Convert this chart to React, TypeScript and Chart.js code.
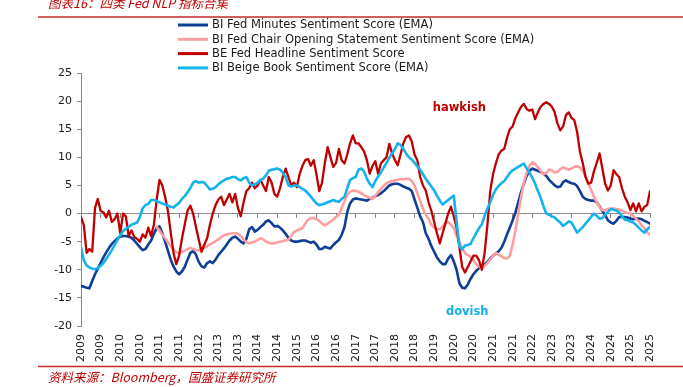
import React, { useEffect, useRef } from 'react';
import { Chart, registerables } from 'chart.js';

Chart.register(...registerables);

// ---- Texts ----
const TITLE = '图表16：四类 Fed NLP 指标合集';
const SOURCE = '资料来源：Bloomberg，国盛证券研究所';
const SERIES_NAMES = [
  'BI Fed Minutes Sentiment Score (EMA)',
  'BI Fed Chair Opening Statement Sentiment Score (EMA)',
  'BE Fed Headline Sentiment Score',
  'BI Beige Book Sentiment Score (EMA)',
];

// x-axis tick labels, one every TICK_STEP monthly points
const X_TICK_LABELS = [
  '2009', '2009', '2010', '2010', '2011', '2011', '2012', '2013', '2013', '2014',
  '2014', '2015', '2016', '2016', '2017', '2017', '2018', '2018', '2019', '2020',
  '2020', '2021', '2021', '2022', '2023', '2023', '2024', '2024', '2025', '2025',
];
const TICK_STEP = 7;
const Y_MIN = -20;
const Y_MAX = 25;
const Y_STEP = 5;

// ---- Series (monthly points) ----
const MINUTES = [
  -12.9, -13, -13.2, -13.3, -12, -10.8, -9.8, -8.8, -7.8, -6.9,
  -6.1, -5.4, -4.9, -4.4, -4.1, -4, -4, -4.1, -4.3, -4.8,
  -5.4, -6, -6.5, -6.3, -5.5, -4.8, -3.6, -2.6, -2.3, -3.5,
  -5, -6.6, -8.2, -9.4, -10.3, -10.8, -10.3, -9.5, -8.2, -7,
  -6.6, -7.3, -8.6, -9.4, -9.6, -8.8, -8.5, -8.8, -8.2, -7.4,
  -6.8, -6.2, -5.5, -4.8, -4.3, -4.1, -4.5, -5, -5.3, -4.5,
  -2.8, -2.4, -3.2, -2.9, -2.4, -2, -1.4, -1.2, -1.7, -2.3,
  -2.2, -2.5, -3, -3.6, -4.3, -4.8, -5, -5, -4.9, -4.8,
  -4.8, -5, -5.2, -5, -5.5, -6.3, -6.3, -5.9, -6.1, -6.2,
  -5.6, -5.1, -4.7, -3.8, -2.4, 0.3, 1.8, 2.5, 2.7, 2.6,
  2.5, 2.4, 2.3, 2.6, 2.8, 3.1, 3.3, 3.6, 4, 4.5,
  5, 5.2, 5.3, 5.3, 5.1, 4.8, 4.6, 4.4, 4, 2.5,
  1, -0.5, -1.5, -3.5, -4.5, -5.8, -6.8, -7.8, -8.5, -9,
  -9, -8, -7.4, -8.5, -10, -12.4, -13.2, -13.3, -12.6, -11.6,
  -10.8, -10.2, -9.7, -9.3, -9, -8.6, -8, -7.5, -7.1, -6.7,
  -6.1, -5, -3.7, -2.5, -1.2, 0.2, 2, 3.8, 5.3, 6.7,
  7.6, 8, 7.8, 7.6, 7.4, 7.1, 6.7, 6, 5.5, 5,
  4.7, 4.8, 5.6, 5.9, 5.6, 5.4, 5.3, 4.9, 4, 3,
  2.6, 2.4, 2.3, 2.3, 2, 1.3, 0.5, -0.3, -1.2, -1.6,
  -1.8, -1.3, -0.6, -0.6, -0.6, -0.7, -0.9, -1, -0.9, -0.9,
  -1, -1.3, -1.5, -1.8,
];

const CHAIR = [
  null, null, null, null, null, null, null, null, null, null,
  null, null, null, null, null, null, null, null, null, null,
  null, null, null, null, null, null, null, -2.4, -3, -3.8,
  -4.4, -5.1, -5.8, -6.4, -6.9, -7, -6.8, -6.6, -6.3, -6.1,
  -6.3, -6.6, -6.5, -6.3, -6.1, -5.8, -5.5, -5.2, -4.9, -4.6,
  -4.2, -3.9, -3.7, -3.6, -3.5, -3.5, -3.6, -4, -4.6, -5.1,
  -5.3, -5.1, -5, -4.7, -4.4, -4.6, -5, -5.2, -5.3, -5.3,
  -5.1, -5, -4.9, -4.8, -4.7, -4, -3.3, -3, -2.8, -2.6,
  -1.8, -1.1, -0.8, -0.8, -1, -1.3, -1.8, -2.1, -1.8, -1.4,
  -1.1, -0.6, -0.2, 1, 2.2, 3.3, 3.9, 4.1, 4, 3.9,
  3.6, 3.3, 3, 2.8, 2.6, 3.2, 3.8, 4.4, 4.9, 5.4,
  5.6, 5.8, 5.9, 6, 6.1, 6.1, 6.2, 6.2, 5.8, 5,
  3.6, 2.2, 0.8, -0.2, -1, -2, -2.5, -2.8, -2.8, -2.3,
  -1.6, -1.5, -2, -2.6, -4, -5, -6.2, -7, -7.4, -7.7,
  -8.3, -9, -9.4, -9.7, -9.3, -8.8, -8.2, -7.5, -7, -7.3,
  -7.6, -7.9, -8, -7.5, -5.5, -3, 0, 3, 5.5, 7.3,
  8.5, 9.1, 8.8, 8.2, 7.6, 7, 7.2, 7.8, 7.7, 7.3,
  7.4, 7.9, 8.2, 8, 7.8, 8, 8.3, 8.4, 8.2, 7.6,
  6.6, 5.4, 4.2, 3, 2, 1.2, 0.6, 0.6, 0.8, 0.9,
  0.9, 0.8, 0.7, 0.5, 0.3, 0.1, 0, -0.4, -0.9, -1.4,
  -2.1, -2.6, -3.3, -3.8,
];

const HEADLINE = [
  -0.7, -2, -7, -6.3, -6.8, 1, 2.6, 0.5, 0.2, -0.7,
  0.5, -1.5, -1, 0, -3.5, 0, -0.5, -4, -3, -4.2,
  -4.5, -5, -3.7, -4.3, -2.5, -4, -2, 2.5, 6, 5,
  3, 0.5, -3.3, -7, -9, -7.5, -4.5, -2, 0.5, 1.4,
  0, -2.4, -4.6, -6.8, -5.5, -4.4, -2, 0, 1.5, 2.5,
  3, 1.5, 2.5, 3.5, 2, 3.5, 1, -0.5, 2, 4,
  4.5, 5.5, 4.5, 5, 6, 5, 4, 6.5, 5.5, 3.5,
  3, 4.5, 6.5, 8, 6.5, 5, 5.5, 4.7, 7, 8.5,
  9.5, 9.7, 8.5, 9.5, 7, 4, 5.5, 9, 11.8, 10,
  8.3, 9, 11.5, 9.5, 8.9, 10.5, 12.5, 13.9, 12.5, 12.5,
  11.8, 11, 9.5, 7.1, 8.5, 9.3, 7.1, 8.9, 9.5, 10,
  12.4, 10.7, 9.5, 8.6, 10.5, 12.5, 13.6, 13.9, 12.8, 10.5,
  9.5, 6.5, 5, 4.1, 2, 0.5, -1.5, -3.5, -5.3, -3.5,
  -1.8, 0, 1.2, -0.5, -2.5, -6, -9.5, -10.5, -9.5, -8.5,
  -7.5, -7.5, -8.3, -10, -7, -2, 4, 7, 8.9, 10.5,
  11.2, 11.5, 13.5, 15, 15.5, 17, 18, 19, 19.5, 18.6,
  18.3, 18.5, 16.8, 18, 19, 19.5, 19.8, 19.5, 19, 18,
  16, 14.8, 15.5, 17.5, 18, 17, 16.6, 14.5, 11, 9,
  6.5, 5.3, 5.5, 7.5, 9, 10.7, 8, 5.3, 4.1, 5,
  7.7, 7, 6.5, 4.5, 3, 2, 0.6, 1.8, 0.4, 1.8,
  0.4, 1.2, 1.5, 4,
];

const BEIGE = [
  -6, -8.3, -9.2, -9.6, -9.8, -9.9, -9.7, -9.3, -8.8, -8.1,
  -7.3, -6.5, -5.6, -4.7, -3.9, -3.1, -2.7, -2.4, -2, -1.8,
  -1.6, -0.6, 0.9, 1.5, 1.7, 2.4, 2.4, 2.2, 2, 1.8,
  1.6, 1.4, 1.2, 1.1, 1.5, 1.9, 2.6, 3.1, 3.8, 4.5,
  5.5, 5.8, 5.5, 5.6, 5.5, 4.9, 4.3, 4.4, 4.7, 5.2,
  5.6, 5.9, 6.2, 6.3, 6.5, 6.5, 6.1, 5.9, 6.3, 6.5,
  5.5, 5, 5.2, 5.5, 5.9, 6.2, 6.8, 7.6, 7.8, 7.9,
  8, 7.8, 7.3, 6.5, 5, 4.8, 5, 5, 4.7, 4.4,
  4.1, 3.6, 3, 2.4, 1.8, 1.5, 1.6, 1.8, 2, 2.2,
  2.4, 2.2, 2.1, 2.6, 3, 4.5, 6, 6.3, 6.5, 7.8,
  8, 7.5, 6.2, 5.3, 4.7, 5.8, 6.6, 7.3, 8.2, 9,
  9.9, 10.7, 11.5, 12.5, 12.2, 11.5, 10.7, 10, 9.6, 9,
  8.4, 7.8, 7, 6.2, 5.5, 4.8, 4.1, 3.2, 2.3, 1.6,
  2, 2.4, 2.8, 3.2, -1.5, -5.8, -6.4, -5.7, -5.6, -5.4,
  -4.4, -3.5, -2.6, -1.9, -0.4, 0.9, 2, 3.3, 4.3, 4.9,
  5.4, 5.8, 6.5, 7.2, 7.7, 8, 8.3, 8.6, 8.9, 8,
  7.3, 6.4, 5.3, 4, 2.8, 1.3, 0, -0.2, -0.5, -0.7,
  -1.2, -1.6, -2.2, -1.8, -1.4, -1.6, -2.5, -3.4, -2.9, -2.4,
  -1.8, -1.2, -0.6, 0, -0.4, -0.9, -0.8, -0.2, 0.3, 0.8,
  0.7, 0.5, 0.2, -0.5, -1.1, -1.2, -1.4, -1.6, -2, -2.5,
  -3, -3.4, -2.8, -2.4,
];

const COLORS = ['#0E3E95', '#FF9E9E', '#C00000', '#14B3EE'];
const WIDTHS = [2.6, 2.6, 2.3, 2.6];
const ORDERS = [3, 2, 1, 0]; // Beige on top, Minutes at the bottom
const SERIES = [MINUTES, CHAIR, HEADLINE, BEIGE];

const FONT = '"DejaVu Sans", Verdana, sans-serif';
const CJK = '"Noto Sans CJK SC", sans-serif';
const RED_TEXT = '#C00000';
const AXIS_GRAY = '#8a8a8a';

export default function App() {
  const ref = useRef<HTMLCanvasElement>(null);

  useEffect(() => {
    if (!ref.current) return;
    const lastIndex = MINUTES.length - 1;

    const decor = {
      id: 'decor',
      afterDraw(chart: any) {
        const ctx = chart.ctx as CanvasRenderingContext2D;
        ctx.save();
        // title and rules
        ctx.fillStyle = RED_TEXT;
        ctx.textAlign = 'left';
        ctx.textBaseline = 'alphabetic';
        ctx.font = `italic 12.5px ${CJK}`;
        ctx.fillText(TITLE, 48, 8);
        ctx.fillText(SOURCE, 48, 382);
        ctx.strokeStyle = '#C42A2A';
        ctx.lineWidth = 1.5;
        ctx.beginPath();
        ctx.moveTo(38, 17);
        ctx.lineTo(683, 17);
        ctx.moveTo(38, 366.5);
        ctx.lineTo(683, 366.5);
        ctx.stroke();

        // legend (one row per series)
        ctx.font = `11.5px ${FONT}`;
        ctx.textBaseline = 'middle';
        chart.data.datasets.forEach((ds: any, i: number) => {
          const y = 25 + i * 14.3;
          ctx.strokeStyle = ds.borderColor;
          ctx.lineWidth = 3;
          ctx.beginPath();
          ctx.moveTo(178, y);
          ctx.lineTo(208, y);
          ctx.stroke();
          ctx.fillStyle = '#1a1a1a';
          ctx.fillText(ds.label, 212, y + 0.5);
        });

        // hawkish / dovish notes
        const xs = chart.scales.x;
        const ys = chart.scales.y;
        ctx.textAlign = 'center';
        ctx.font = `bold 11.5px ${FONT}`;
        ctx.fillStyle = RED_TEXT;
        ctx.fillText('hawkish', xs.getPixelForValue(135), ys.getPixelForValue(18.8));
        ctx.fillStyle = '#12AEEA';
        ctx.fillText('dovish', xs.getPixelForValue(137.8), ys.getPixelForValue(-17.6));
        ctx.restore();
      },
    };

    const chart = new Chart(ref.current, {
      type: 'line',
      data: {
        datasets: SERIES.map((arr, k) => ({
          label: SERIES_NAMES[k],
          data: arr.map((v, i) => ({ x: i, y: v })),
          borderColor: COLORS[k],
          backgroundColor: COLORS[k],
          borderWidth: WIDTHS[k],
          order: ORDERS[k],
          pointRadius: 0,
          fill: false,
          tension: 0,
        })),
      },
      options: {
        animation: false,
        responsive: false,
        layout: { padding: { left: 36, right: 33, top: 73, bottom: 21 } },
        elements: { line: { borderJoinStyle: 'round', borderCapStyle: 'round' } },
        plugins: {
          legend: { display: false },
          tooltip: { enabled: false },
        },
        scales: {
          x: {
            type: 'linear',
            position: 'bottom',
            min: 0,
            max: lastIndex,
            afterFit: (s: any) => { s.height = 40; },
            grid: { display: false, drawTicks: false },
            border: { display: false },
            ticks: {
              stepSize: TICK_STEP,
              autoSkip: false,
              maxTicksLimit: 100,
              minRotation: 90,
              maxRotation: 90,
              padding: 8,
              color: '#1a1a1a',
              font: { family: FONT, size: 11 },
              callback: (v: any) => {
                const k = Math.round(Number(v) / TICK_STEP);
                return X_TICK_LABELS[k] ?? '';
              },
            },
          },
          x0: {
            type: 'linear',
            axis: 'x',
            position: { y: 0 },
            min: 0,
            max: lastIndex,
            grid: { drawOnChartArea: false, drawTicks: true, tickLength: 4, color: AXIS_GRAY },
            border: { display: true, color: AXIS_GRAY, width: 1 },
            ticks: { display: false, stepSize: TICK_STEP, autoSkip: false, maxTicksLimit: 100 },
          },
          y: {
            type: 'linear',
            position: 'left',
            min: Y_MIN,
            max: Y_MAX,
            afterFit: (s: any) => { s.width = 45; },
            grid: { drawOnChartArea: false, drawTicks: true, tickLength: 4, color: AXIS_GRAY },
            border: { display: true, color: AXIS_GRAY, width: 1 },
            ticks: {
              stepSize: Y_STEP,
              padding: 5,
              color: '#1a1a1a',
              font: { family: FONT, size: 11 },
            },
          },
        },
      } as any,
      plugins: [decor],
    });
    return () => chart.destroy();
  }, []);

  return (
    <div style={{ position: 'absolute', left: 0, top: 0, width: 683, height: 387, background: '#fff' }}>
      <canvas ref={ref} width={683} height={387} style={{ display: 'block' }} />
    </div>
  );
}
